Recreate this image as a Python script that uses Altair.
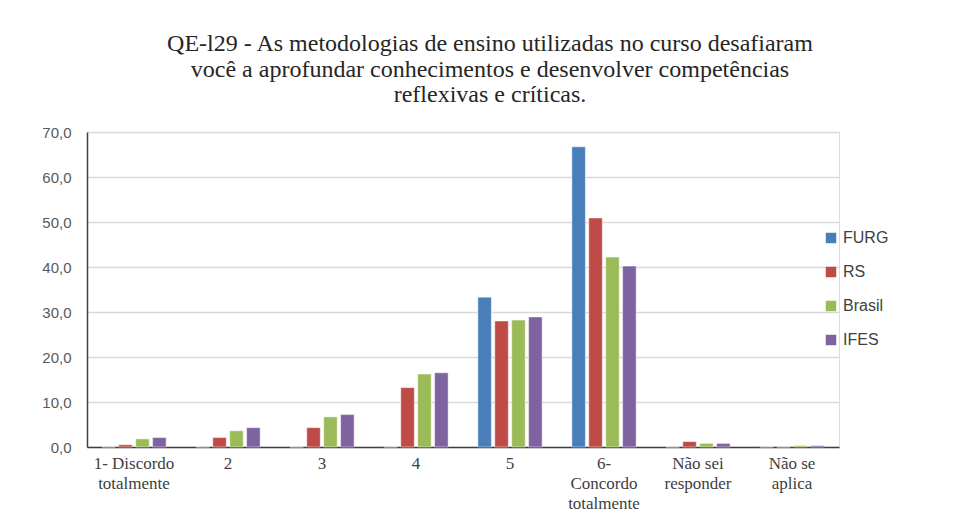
import altair as alt
import pandas as pd

categories = ["1- Discordo|totalmente", "2", "3", "4", "5",
              "6-|Concordo|totalmente", "Não sei|responder", "Não se|aplica"]
series = ["FURG", "RS", "Brasil", "IFES"]
colors = ["#4a7ebb", "#be4b48", "#9bbb59", "#7f63a1"]

furg = [0.0, 0.0, 0.0, 0.0, 33.3, 66.7, 0.0, 0.0]
rs = [0.5, 2.1, 4.3, 13.2, 28.0, 50.9, 1.2, 0.0]
brasil = [1.8, 3.6, 6.7, 16.2, 28.2, 42.2, 0.8, 0.3]
ifes = [2.1, 4.3, 7.2, 16.5, 28.9, 40.2, 0.8, 0.3]

rows = []
for name, vals in zip(series, [furg, rs, brasil, ifes]):
    for c, v in zip(categories, vals):
        rows.append({"cat": c, "serie": name, "valor": v})
df = pd.DataFrame(rows)

title_lines = [
    "QE-l29 - As metodologias de ensino utilizadas no curso desafiaram",
    "você a aprofundar conhecimentos e desenvolver competências",
    "reflexivas e críticas.",
]

chart = alt.Chart(df).mark_bar(stroke="white", strokeWidth=0.8, strokeOpacity=0.6).encode(
    x=alt.X("cat:N", sort=categories,
            scale=alt.Scale(paddingInner=0.28, paddingOuter=0.14),
            axis=alt.Axis(title=None, labelAngle=0, labelExpr="split(datum.label, '|')",
                          labelFont="Liberation Serif", labelFontSize=17, labelColor="#404040",
                          labelLineHeight=20, labelPadding=8, ticks=False,
                          domainColor="#404040", domainWidth=1.5, labelLimit=200)),
    xOffset=alt.XOffset("serie:N", sort=series,
                        scale=alt.Scale(paddingInner=0.2, paddingOuter=0.1)),
    y=alt.Y("valor:Q", scale=alt.Scale(domain=[0, 70]),
            axis=alt.Axis(title=None, values=[0, 10, 20, 30, 40, 50, 60, 70],
                          labelExpr="replace(format(datum.value, '.1f'), '.', ',')",
                          labelFont="Liberation Sans", labelFontSize=15, labelColor="#595959",
                          labelPadding=16, ticks=False, gridColor="#d9d9d9", gridWidth=1.5,
                          domainColor="#404040", domainWidth=1.5)),
    color=alt.Color("serie:N", sort=series,
                    scale=alt.Scale(domain=series, range=colors),
                    legend=alt.Legend(title=None, orient="none", legendX=736, legendY=98,
                                      symbolType="square", symbolSize=110, symbolStrokeWidth=0,
                                      labelFont="Liberation Sans", labelFontSize=16,
                                      labelColor="#404040", rowPadding=18, labelOffset=4)),
).properties(
    width=752, height=315,
    title=alt.TitleParams(title_lines, font="Liberation Serif", fontSize=24,
                          fontWeight="normal", color="#262626", anchor="middle",
                          lineHeight=25.5, offset=18, dx=27),
    padding={"left": 33, "top": 24, "right": 10, "bottom": 5},
).configure_view(stroke=None).configure(background="white")

chart.save("out.html", embed_options={"renderer": "svg", "actions": False})
